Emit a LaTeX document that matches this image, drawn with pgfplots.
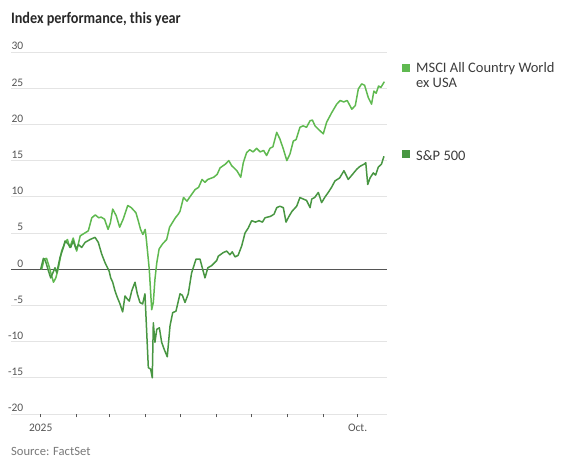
\documentclass[border=0pt]{standalone}
\usepackage{pgfplots}
\pgfplotsset{compat=1.18}
\usepackage{fontspec}
\setmainfont{Carlito}
\newfontfamily\titlefont[FakeStretch=0.89]{Carlito}
\definecolor{msci}{RGB}{95,185,80}
\definecolor{spx}{RGB}{72,150,66}
\definecolor{gridc}{RGB}{228,228,228}
\definecolor{zeroc}{RGB}{85,85,85}
\definecolor{tickc}{RGB}{85,85,85}
\definecolor{legc}{RGB}{60,60,60}
\definecolor{srcc}{RGB}{120,120,120}
\definecolor{titc}{RGB}{40,40,40}
\begin{document}
\begin{tikzpicture}
\useasboundingbox (0,0) rectangle (574pt,470pt);
\begin{axis}[
  at={(11pt,56pt)}, anchor=south west,
  scale only axis, width=376pt, height=362pt,
  xmin=-25.6, xmax=298.3, ymin=-20, ymax=30,
  axis line style={draw=none},
  ytick={-20,-15,...,30},
  ymajorgrids, grid style={gridc, line width=0.8pt},
  ytick style={draw=none},
  xtick={0,31,59,90,120,151,181,212,243,273},
  xticklabels={2025,,,,,,,,,Oct.},
  xtick pos=bottom, tick align=outside,
  major tick length=3.5pt,
  xtick style={tickc, line width=0.6pt},
  /pgf/number format/assume math mode=true,
  tick label style={font=\fontsize{11.5}{13}\selectfont, text=tickc},
  yticklabel style={anchor=base east, inner sep=0pt, xshift=16pt, yshift=2pt},
  xticklabel style={anchor=base, inner sep=0pt, yshift=-14.5pt},
  clip=false,
]
\draw[zeroc, line width=1.1pt] (axis cs:-25.6,0) -- (axis cs:298.3,0);
\addplot[msci, line width=1.5pt, line join=round] coordinates {
(0,0) (1,0.1) (3,1.4) (5,1.5) (7,0.5) (9,-0.7) (11,-1.8) (13,-1.2) (15,0.0)
(18,2.5) (21,3.7) (23,4.1) (25,3.0) (28,4.3) (31,2.5) (34,4.6) (37,4.9)
(41,5.3) (44,7.1) (47,7.5) (50,7.1) (52,7.2) (55,6.9) (58,5.5) (60,6.4)
(62,8.3) (65,7.4) (68,5.8) (71,6.9) (75,8.8) (78,8.5) (82,7.8) (84,6.7)
(86,5.5) (88,4.8) (90,5.5) (91,4.1) (93.5,0) (94.7,-3.2) (95.6,-5.6)
(97,-4.6) (98.4,-1.4) (100,0.9) (102,2.8) (105,3.5) (108.5,4.1) (111,5.8)
(116,7.1) (118.5,7.6) (120,8.0) (123,9.9) (126,9.4) (129,10.1) (133,11.0)
(136,11.3) (139,12.4) (141.5,12.0) (144,12.4) (149,12.7) (152,13.1)
(154.5,14.0) (159,14.5) (162,15.0) (164.5,14.3) (169,13.6) (172.3,12.7)
(174.5,14.7) (177.4,16.1) (180,16.5) (183,16.2) (186,16.7) (189,16.2)
(192,16.4) (194.6,15.7) (197.5,16.7) (200,16.9) (203.3,18.9) (206,18.0)
(209,16.6) (212,15.0) (214.7,15.9) (217.6,17.7) (220,17.9) (223.3,19.6)
(226,19.8) (229,19.6) (232,20.5) (234,20.6) (236.3,19.8) (240,19.2)
(243.4,18.7) (246.3,20.3) (250.6,21.6) (255,22.8) (258,23.3) (261,23.1)
(264,23.3) (268,22.1) (271,22.6) (273.6,24.9) (276.5,25.6) (279,25.4)
(282.2,23.7) (285,22.8) (287,24.6) (289,24.3) (291,25.3) (293,25.1) (296,25.9)
};
\addplot[spx, line width=1.5pt, line join=round] coordinates {
(0,0) (2.3,1.5) (4,1.2) (6.6,-0.2) (8.6,-1.2) (10.5,-0.5) (12.3,0.2)
(13.8,-0.5) (16.6,1.6) (19.5,3.0) (21,3.9) (23.5,3.5) (25.8,3.0) (28,3.9)
(30.4,2.8) (32.5,3.4) (35.3,3.0) (38.2,3.7) (42.5,4.1) (46.8,4.4)
(49.6,3.7) (52.5,2.1) (55.4,0.9) (59,-0.3) (60.3,-1.2) (62,-1.8) (64,-3.0)
(66,-3.9) (68.3,-4.8) (70.6,-5.9) (72.6,-3.7) (75,-4.2) (76.3,-4.4)
(78.4,-3.0) (81.2,-1.8) (83.2,-3.4) (85.5,-4.6) (87.8,-4.8) (89.8,-3.4)
(91.3,-8.7) (92.7,-13.6) (94.7,-13.8) (96.1,-15.0) (97,-7.4) (98.4,-10.1)
(100,-8.3) (102.2,-8.1) (104.2,-10.1) (106.2,-11.0) (109,-12.1)
(111.4,-7.8) (113.7,-6.0) (116.5,-5.8) (120,-3.4) (122,-3.6) (124.3,-4.6)
(127.1,-3.4) (130,-0.5) (133.8,1.4) (137.2,1.4) (140,-0.3) (141.5,-1.2)
(144,0.2) (147.3,0.5) (151.6,1.2) (153,1.8) (157.3,2.3) (160.2,2.5)
(163,2.0) (165,2.4) (167.4,1.7) (170,1.9) (173.1,3.2) (176,5.0) (178.8,5.7)
(181.7,6.7) (185,6.5) (188,6.7) (191,6.5) (193.2,7.1) (198,7.3) (201,7.6)
(203.3,8.5) (206,8.7) (209,8.5) (211.3,6.5) (213.5,7.2) (216.5,8.0)
(220.5,8.7) (223.3,9.9) (226,9.7) (229,9.5) (232,8.5) (233.5,9.7)
(236,9.9) (239.1,10.6) (242,9.2) (245,10.0) (247.7,10.6) (250.5,11.3)
(253.5,12.2) (257.5,12.6) (261.2,13.6) (264.9,12.4) (268.6,13.1)
(272.2,13.8) (275,14.2) (278.5,14.5) (280,14.7) (281.7,11.7) (283.7,12.6)
(286.5,13.3) (288.5,13.0) (290.8,14.1) (293.5,14.5) (295.7,15.6)
};
\end{axis}
% title
\node[anchor=base west, inner sep=0pt, text=titc] at (10.8pt,446.7pt)
  {\titlefont\bfseries\fontsize{16}{18}\selectfont Index performance, this year};
% legend
\fill[msci] (402pt,398pt) rectangle (410pt,406pt);
\node[anchor=base west, inner sep=0pt, text=legc] at (416pt,397.7pt)
  {\fontsize{14.5}{16}\selectfont MSCI All Country World};
\node[anchor=base west, inner sep=0pt, text=legc] at (416pt,382.3pt)
  {\fontsize{14.5}{16}\selectfont ex USA};
\fill[spx] (402pt,311.7pt) rectangle (410pt,319.7pt);
\node[anchor=base west, inner sep=0pt, text=legc] at (416pt,309.3pt)
  {\fontsize{14.5}{16}\selectfont S\&P 500};
% source
\node[anchor=base west, inner sep=0pt, text=srcc] at (11pt,14pt)
  {\fontsize{12.6}{14}\selectfont Source: FactSet};
\end{tikzpicture}
\end{document}
